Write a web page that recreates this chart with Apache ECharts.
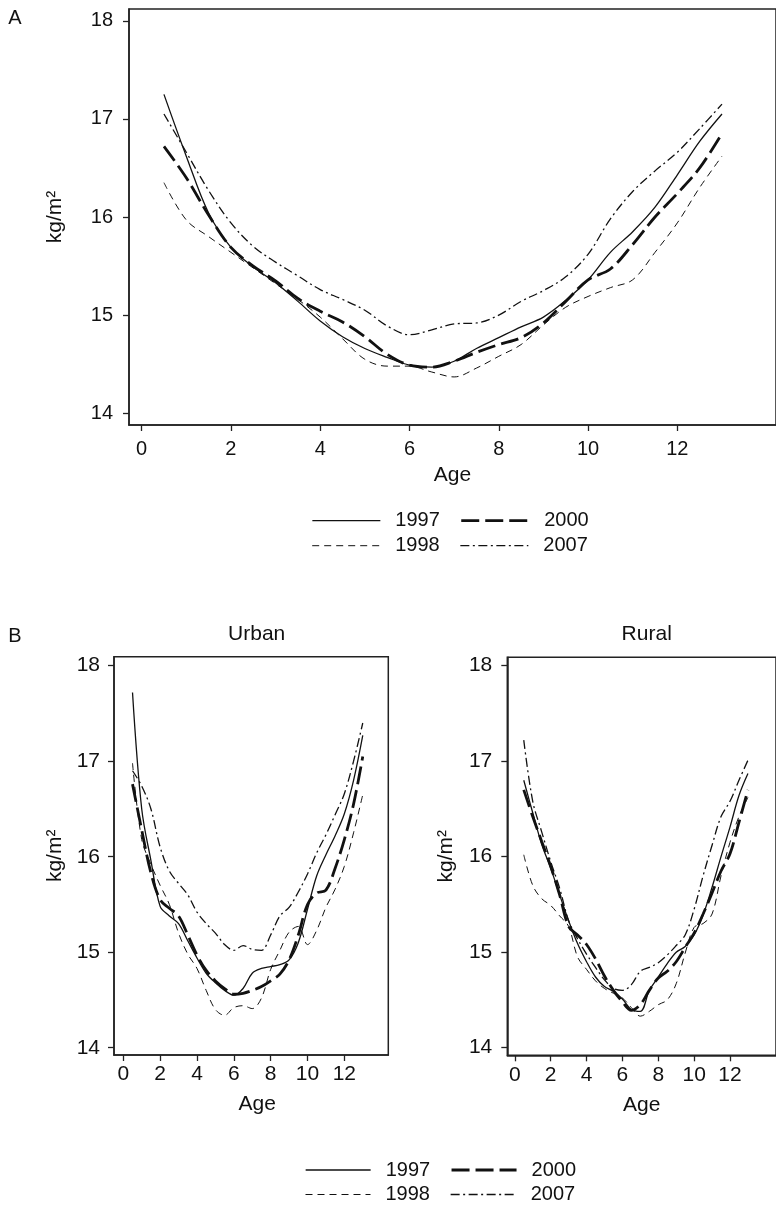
<!DOCTYPE html>
<html><head><meta charset="utf-8">
<script src="https://cdn.jsdelivr.net/npm/echarts@6/dist/echarts.min.js"></script>
<style>html,body{margin:0;padding:0;background:#fff}#c{width:776px;height:1205px}</style>
</head><body><div id="c"></div>
<script>
// Ages (years) at which values were read
const ages = [0.5,1,1.5,2,2.5,3,3.5,4,4.5,5,5.5,6,6.5,7,7.5,8,8.5,9,9.5,10,10.5,11,11.5,12,12.5,13];
const xTicks = [0,2,4,6,8,10,12];
const yTicks = [14,15,16,17,18];
const years = ['1997','1998','2000','2007'];

// Panel A: all children (BMI, kg/m2)
const a1997 = [17.25,16.62,16.04,15.69,15.49,15.33,15.14,14.94,14.78,14.66,14.57,14.49,14.47,14.53,14.66,14.77,14.88,14.98,15.15,15.36,15.64,15.85,16.10,16.43,16.77,17.05];
const a1998 = [16.35,15.97,15.80,15.64,15.48,15.32,15.16,14.98,14.76,14.55,14.48,14.48,14.42,14.37,14.46,14.58,14.70,14.90,15.08,15.19,15.28,15.36,15.64,15.94,16.30,16.62];
const a2000 = [16.72,16.40,16.02,15.69,15.50,15.35,15.17,15.04,14.93,14.78,14.60,14.49,14.47,14.53,14.62,14.70,14.77,14.92,15.14,15.36,15.47,15.72,16.00,16.24,16.50,16.85];
const a2007 = [17.05,16.66,16.27,15.94,15.70,15.54,15.40,15.26,15.16,15.05,14.89,14.80,14.85,14.91,14.92,15.00,15.14,15.25,15.39,15.62,15.98,16.26,16.47,16.66,16.90,17.15];

// Panel B: Urban
const u1997 = [17.72,16.50,15.96,15.48,15.38,15.30,15.12,14.94,14.78,14.68,14.60,14.55,14.62,14.78,14.83,14.85,14.87,14.92,15.10,15.45,15.80,16.02,16.22,16.45,16.80,17.27];
const u1998 = [16.98,16.18,15.92,15.70,15.50,15.20,14.98,14.83,14.60,14.40,14.34,14.42,14.44,14.41,14.52,14.82,15.02,15.21,15.27,15.08,15.23,15.47,15.66,15.90,16.25,16.65];
const u2000 = [16.76,16.28,15.83,15.55,15.46,15.38,15.18,14.97,14.81,14.70,14.62,14.56,14.57,14.60,14.64,14.70,14.77,14.92,15.18,15.50,15.62,15.65,15.88,16.18,16.55,17.05];
const u2007 = [16.90,16.74,16.50,16.10,15.85,15.72,15.60,15.42,15.30,15.20,15.08,15.02,15.07,15.03,15.02,15.18,15.38,15.47,15.63,15.82,16.04,16.23,16.44,16.66,17.00,17.40];

// Panel B: Rural
const r1997 = [16.80,16.46,16.13,15.88,15.60,15.33,15.09,14.90,14.74,14.64,14.59,14.51,14.40,14.38,14.60,14.74,14.88,15.00,15.06,15.18,15.39,15.68,16.00,16.31,16.64,16.87];
const r1998 = [16.02,15.70,15.56,15.49,15.38,15.27,14.95,14.82,14.70,14.62,14.57,14.52,14.42,14.33,14.38,14.45,14.50,14.67,14.99,15.26,15.30,15.40,15.80,16.15,16.42,16.62];
const r2000 = [16.70,16.42,16.16,15.90,15.60,15.27,15.18,15.08,14.93,14.75,14.60,14.48,14.39,14.45,14.60,14.73,14.80,14.90,15.05,15.20,15.40,15.62,15.85,16.03,16.36,16.70];
const r2007 = [17.22,16.58,16.26,15.95,15.67,15.33,15.14,14.98,14.84,14.71,14.62,14.60,14.66,14.80,14.84,14.89,14.97,15.07,15.18,15.45,15.80,16.12,16.42,16.58,16.80,17.01];

const FONT = 'Liberation Sans, Arial, sans-serif';
const INK = '#111';
const lineStyles = {
  '1997': {type:'solid', width:1.3},
  '1998': {type:[7,5], width:1},
  '2000': {type:[18,6], width:2.8},
  '2007': {type:[9,3.5,2,3.5], width:1.3}
};

const panels = [
  {data:{'1997':a1997,'1998':a1998,'2000':a2000,'2007':a2007},
   grid:{left:129, top:9, width:650, height:416},
   x:[-0.283,14.21], y:[13.88,18.12], fs:20, xMargin:14, yMargin:16, yGap:63, xGap:40, namePad:[0,0,0,0]},
  {data:{'1997':u1997,'1998':u1998,'2000':u2000,'2007':u2007},
   grid:{left:114, top:656.7, width:274.3, height:398.3},
   x:[-0.505,14.386], y:[13.924,18.094], fs:21, xMargin:9, yMargin:14, yGap:48, xGap:39, namePad:[0,0,0,12]},
  {data:{'1997':r1997,'1998':r1998,'2000':r2000,'2007':r2007},
   grid:{left:507.3, top:657.3, width:276, height:398},
   x:[-0.418,14.565], y:[13.920,18.088], fs:21, xMargin:9, yMargin:15, yGap:51, xGap:39, namePad:[0,0,0,0]}
];

const grids = [], xAxes = [], yAxes = [], series = [];
panels.forEach((p, gi) => {
  grids.push(Object.assign({show:true, borderColor:'#222', borderWidth:1.5, backgroundColor:'transparent'}, p.grid));
  const tickStyle = {color:'#222', width:1.3};
  xAxes.push({
    gridIndex:gi, type:'value', min:p.x[0], max:p.x[1],
    axisLine:{show:true, onZero:false, lineStyle:{color:'#222', width:1.5}},
    axisTick:{show:true, length:6, customValues:xTicks, lineStyle:tickStyle},
    axisLabel:{customValues:xTicks, margin:p.xMargin, fontSize:p.fs, color:INK, fontFamily:FONT},
    splitLine:{show:false},
    name:'Age', nameLocation:'middle', nameGap:p.xGap,
    nameTextStyle:{fontSize:21, color:INK, fontFamily:FONT, padding:p.namePad}
  });
  yAxes.push({
    gridIndex:gi, type:'value', min:p.y[0], max:p.y[1],
    axisLine:{show:true, onZero:false, lineStyle:{color:'#222', width:1.5}},
    axisTick:{show:true, length:6, customValues:yTicks, lineStyle:tickStyle},
    axisLabel:{customValues:yTicks, margin:p.yMargin, fontSize:p.fs, color:INK, fontFamily:FONT},
    splitLine:{show:false},
    name:'kg/m²', nameLocation:'middle', nameGap:p.yGap, nameRotate:90,
    nameTextStyle:{fontSize:21, color:INK, fontFamily:FONT}
  });
  years.forEach(yr => {
    series.push({
      type:'line', name:yr, xAxisIndex:gi, yAxisIndex:gi,
      data: ages.map((a,i)=>[a, p.data[yr][i]]),
      smooth:0.35, symbol:'none', showSymbol:false, silent:true,
      lineStyle:Object.assign({color:'#111'}, lineStyles[yr]),
      itemStyle:{color:'#111'}
    });
  });
});

function legendRow(items, left, top, iw) {
  return {data:items.map(n => ({name:n, lineStyle:Object.assign({color:'#111'}, lineStyles[n])})),
    left:left, top:top, orient:'horizontal', itemWidth:iw, itemHeight:14,
    itemGap:20, selectedMode:false, padding:0,
    itemStyle:{color:'rgba(0,0,0,0)', borderWidth:0, opacity:0},
    textStyle:{fontSize:20, color:INK, fontFamily:FONT, padding:[0,0,0,10]}};
}

const chart = echarts.init(document.getElementById('c'), null, {renderer:'canvas'});
chart.setOption({
  animation:false,
  backgroundColor:'#fff',
  grid:grids, xAxis:xAxes, yAxis:yAxes, series:series,
  legend:[
    legendRow(['1997','2000'], 311.7, 510.7, 68),
    legendRow(['1998','2007'], 311.7, 535.7, 68),
    legendRow(['1997','2000'], 305, 1160, 65),
    legendRow(['1998','2007'], 305, 1184.5, 65)
  ],
  graphic:[
    {type:'text', x:15, y:18.5, style:{text:'A', fontSize:20, fontFamily:FONT, fill:INK, align:'center', verticalAlign:'middle'}},
    {type:'text', x:15, y:636.5, style:{text:'B', fontSize:20, fontFamily:FONT, fill:INK, align:'center', verticalAlign:'middle'}},
    {type:'text', x:256.7, y:634, style:{text:'Urban', fontSize:21, fontFamily:FONT, fill:INK, align:'center', verticalAlign:'middle'}},
    {type:'text', x:646.7, y:634, style:{text:'Rural', fontSize:21, fontFamily:FONT, fill:INK, align:'center', verticalAlign:'middle'}}
  ]
});
</script></body></html>
